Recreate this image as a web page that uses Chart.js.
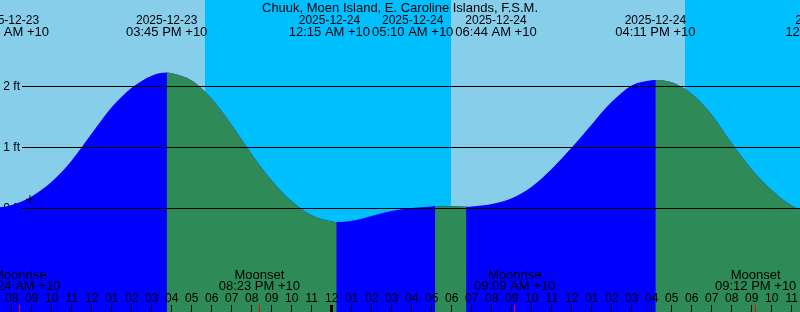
<!DOCTYPE html>
<html>
<head>
<meta charset="utf-8">
<script src="https://cdn.jsdelivr.net/npm/chart.js@4.4.1/dist/chart.umd.min.js"></script>
<style>
  html, body { margin: 0; padding: 0; background: #87ceeb; }
  canvas { display: block; }
</style>
</head>
<body>
<canvas id="chartTide" width="800" height="312"></canvas>
<script>
// all times are hours counted from 2025-12-23 00:00 (+10)
const stationName = 'Chuuk, Moen Island, E. Caroline Islands, F.S.M.';

const tideHours = [7, 8, 9, 10, 11, 12, 13, 14, 15, 15.75, 16, 17, 18, 19, 20, 21, 22, 23, 24, 24.25,
    25, 26, 27, 28, 29, 29.167, 30, 30.733, 31, 32, 33, 34, 35, 36, 37, 38, 39, 40, 40.183,
    41, 42, 43, 44, 45, 46, 47, 48];
const tideFeet = [-0.01, 0.05, 0.19, 0.43, 0.78, 1.22, 1.65, 1.97, 2.17, 2.22, 2.21, 2.09, 1.79, 1.36, 0.88, 0.45, 0.11, -0.12, -0.22, -0.23,
    -0.21, -0.13, -0.05, 0.00, 0.025, 0.03, 0.028, 0.02, 0.025, 0.065, 0.16, 0.35, 0.64, 0.99, 1.37, 1.74, 2.01, 2.095, 2.10,
    2.06, 1.87, 1.53, 1.06, 0.63, 0.29, 0.04, -0.10];

// high / low tide events shown along the top
const tideEventHours = [7.833, 15.75, 24.25, 29.167, 30.733, 40.183, 48.717];
const tideEventDates = ['2025-12-23', '2025-12-23', '2025-12-24', '2025-12-24', '2025-12-24', '2025-12-24', '2025-12-25'];
const tideEventClock = ['07:50 AM +10', '03:45 PM +10', '12:15 AM +10', '05:10 AM +10', '06:44 AM +10', '04:11 PM +10', '12:43 AM +10'];

// moon events along the bottom
const moonHours = [8.4, 20.383, 33.15, 45.2];
const moonKinds = ['Moonrise', 'Moonset', 'Moonrise', 'Moonset'];
const moonClock = ['08:24 AM +10', '08:23 PM +10', '09:09 AM +10', '09:12 PM +10'];

// sunset / sunrise (sky colour changes)
const sunHours = [17.665, 29.965, 41.665];
const sunKinds = ['set', 'rise', 'set'];

const ftTicks = [0, 1, 2];
const nowMark = [{ x: 8.915, y: 0.143 }];

const HOUR_MIN = 7.415, HOUR_MAX = 47.415;
const FT_MIN = -104 / 61, FT_MAX = 208 / 61;

const COLOR_DAY = '#87ceeb';
const COLOR_NIGHT = '#00bfff';
const COLOR_RISE = '#0000ff';
const COLOR_FALL = '#2e8b57';
const FONT_SMALL = '12px "Liberation Sans", Arial, sans-serif';
const FONT_BIG = '13px "Liberation Sans", Arial, sans-serif';

// push overlapping labels apart, evenly round the mean of each overlapping group
function spreadLabels(centers, gap) {
    const groups = centers.map((c, i) => ({ idx: [i], mean: c }));
    let merged = true;
    while (merged) {
        merged = false;
        for (let i = 0; i < groups.length - 1; i++) {
            const g = groups[i], h = groups[i + 1];
            const gEnd = g.mean + (g.idx.length - 1) * gap / 2;
            const hStart = h.mean - (h.idx.length - 1) * gap / 2;
            if (hStart - gEnd < gap) {
                const idx = g.idx.concat(h.idx);
                const mean = idx.reduce((s, k) => s + centers[k], 0) / idx.length;
                groups.splice(i, 2, { idx, mean });
                merged = true;
                break;
            }
        }
    }
    const out = [];
    groups.forEach(g => g.idx.forEach((k, j) => {
        out[k] = g.mean + (j - (g.idx.length - 1) / 2) * gap;
    }));
    return out;
}

function hourText(h) {
    const v = ((Math.round(h) % 12) + 12) % 12 || 12;
    return String(v).padStart(2, '0');
}

const tideDecor = {
    id: 'tideDecor',
    beforeDatasetsDraw(chart) {
        const { ctx, chartArea: a, scales: { x, y } } = chart;
        ctx.save();
        // sky
        ctx.fillStyle = COLOR_DAY;
        ctx.fillRect(a.left, a.top, a.width, a.height);
        ctx.fillStyle = COLOR_NIGHT;
        let start = sunKinds[0] === 'set' ? null : HOUR_MIN;
        sunHours.forEach((t, i) => {
            if (sunKinds[i] === 'set') {
                start = t;
            } else if (start !== null) {
                const x0 = Math.round(x.getPixelForValue(start));
                ctx.fillRect(x0, a.top, Math.round(x.getPixelForValue(t)) - x0, a.height);
                start = null;
            }
        });
        if (start !== null) {
            const x0 = Math.round(x.getPixelForValue(start));
            ctx.fillRect(x0, a.top, a.right - x0, a.height);
        }
        // height labels (sit under the water)
        ctx.font = FONT_SMALL;
        ctx.fillStyle = '#000';
        ctx.textAlign = 'right';
        ctx.textBaseline = 'middle';
        ftTicks.forEach(v => ctx.fillText(v + ' ft', 20, y.getPixelForValue(v) + 0.5));
        ctx.restore();
    },
    afterDatasetsDraw(chart) {
        const { ctx, chartArea: a, scales: { x, y } } = chart;
        ctx.save();
        ctx.fillStyle = '#000';
        ftTicks.forEach(v => {
            ctx.fillRect(22, Math.round(y.getPixelForValue(v)), a.right - 22, 1);
        });

        ctx.textAlign = 'center';
        ctx.textBaseline = 'alphabetic';
        ctx.font = FONT_BIG;
        ctx.fillText(stationName, (a.left + a.right) / 2, 12);

        // tide events
        const w = Math.max(...tideEventClock.map(s => ctx.measureText(s).width));
        const topX = spreadLabels(tideEventHours.map(t => x.getPixelForValue(t)), w + 2);
        tideEventHours.forEach((t, i) => {
            ctx.font = FONT_SMALL;
            ctx.fillText(tideEventDates[i], topX[i], 23.5);
            ctx.font = FONT_BIG;
            ctx.fillText(tideEventClock[i], topX[i], 36);
        });

        // moon events
        ctx.font = FONT_BIG;
        const mw = Math.max(...moonClock.map(s => ctx.measureText(s).width));
        const moonX = spreadLabels(moonHours.map(t => x.getPixelForValue(t)), mw + 2);
        moonHours.forEach((t, i) => {
            ctx.fillText(moonKinds[i], moonX[i], 278.5);
            ctx.fillText(moonClock[i], moonX[i], 289.5);
        });

        // hour ticks and labels
        ctx.font = FONT_SMALL;
        for (let h = Math.ceil(HOUR_MIN); h <= HOUR_MAX; h++) {
            const px = x.getPixelForValue(h);
            const tw = h % 24 === 0 ? 3 : 1;
            ctx.fillRect(Math.round(px - tw / 2), 305, tw, 7);
            ctx.fillText(hourText(h), px, 302);
        }
        ctx.fillStyle = '#ff0000';
        moonHours.forEach(t => {
            ctx.fillRect(Math.round(x.getPixelForValue(t) - 0.5), 305, 1, 7);
        });
        ctx.restore();
    }
};

const tidePoints = tideHours.map((h, i) => ({ x: h, y: tideFeet[i] }));
const waterStyle = {
    borderWidth: 0,
    borderColor: 'rgba(0,0,0,0)',
    pointRadius: 0,
    cubicInterpolationMode: 'monotone',
    fill: 'start'
};

new Chart(document.getElementById('chartTide'), {
    type: 'line',
    data: {
        datasets: [{
            // whole water body in the rising colour
            ...waterStyle,
            data: tidePoints,
            backgroundColor: COLOR_RISE,
            order: 3
        }, {
            // falling stretches painted over it
            ...waterStyle,
            data: tidePoints,
            backgroundColor: COLOR_FALL,
            order: 2,
            segment: {
                backgroundColor: c => c.p1.parsed.y >= c.p0.parsed.y ? 'rgba(0,0,0,0)' : COLOR_FALL
            }
        }, {
            data: nowMark,
            showLine: false,
            pointStyle: 'cross',
            pointRadius: 4,
            pointBorderColor: '#000',
            pointBorderWidth: 1,
            order: 1
        }]
    },
    options: {
        responsive: false,
        animation: false,
        events: [],
        layout: { padding: 0, autoPadding: false },
        scales: {
            x: { type: 'linear', min: HOUR_MIN, max: HOUR_MAX, display: false },
            y: { type: 'linear', min: FT_MIN, max: FT_MAX, display: false }
        },
        plugins: {
            legend: { display: false },
            tooltip: { enabled: false }
        }
    },
    plugins: [tideDecor]
});
</script>
</body>
</html>
